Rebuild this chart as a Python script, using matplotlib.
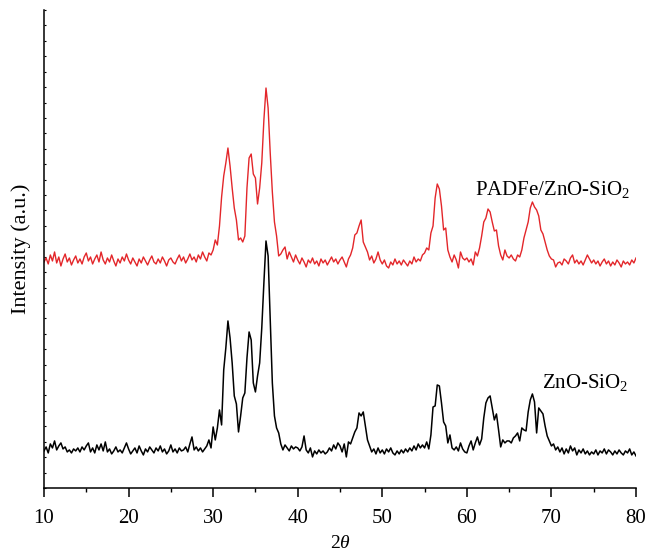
import numpy as np
import matplotlib
matplotlib.use("Agg")
import matplotlib.pyplot as plt
from matplotlib.ticker import MultipleLocator

plt.rcParams['font.family'] = ['Liberation Serif', 'DejaVu Serif']
plt.rcParams['mathtext.fontset'] = 'custom'
plt.rcParams['mathtext.rm'] = 'Liberation Serif'
plt.rcParams['mathtext.it'] = 'Liberation Serif:italic'

# 2theta grid, 10..80 deg in 0.25 deg steps
two_theta = np.arange(10, 80.001, 0.25)

# ZnO-SiO2 intensity (a.u.)
zno_sio2 = [
    37, 41, 35, 44, 40, 47, 38, 42, 45, 39, 41, 36, 38, 35, 39, 37, 40, 36, 41, 38,
    42, 45, 36, 40, 35, 43, 38, 44, 37, 46, 36, 39, 34, 37, 41, 36, 38, 35, 40, 45,
    39, 34, 37, 40, 35, 42, 37, 33, 39, 36, 41, 38, 35, 40, 37, 42, 36, 39, 34, 37,
    43, 36, 39, 35, 40, 37, 38, 41, 36, 44, 51, 38, 41, 37, 40, 36, 39, 42, 48, 40,
    61, 48, 60, 78, 63, 118, 140, 167, 150, 125, 92, 84, 56, 72, 90, 95, 130, 156, 148, 105,
    96, 112, 125, 160, 205, 247, 232, 170, 105, 72, 60, 55, 44, 38, 43, 40, 37, 42, 39, 41,
    40, 37, 41, 52, 38, 35, 40, 31, 37, 34, 38, 35, 37, 34, 36, 40, 37, 43, 39, 45,
    42, 36, 44, 31, 46, 44, 50, 56, 60, 75, 72, 76, 62, 48, 42, 36, 39, 34, 40, 35,
    38, 34, 39, 36, 40, 35, 33, 37, 34, 38, 35, 39, 36, 40, 37, 42, 38, 44, 40, 43,
    40, 46, 39, 53, 81, 82, 103, 102, 85, 66, 62, 45, 53, 40, 38, 41, 37, 45, 39, 36,
    35, 42, 47, 38, 45, 51, 43, 49, 70, 85, 90, 92, 80, 68, 74, 58, 41, 48, 45, 47,
    47, 45, 50, 52, 55, 47, 60, 58, 57, 76, 88, 94, 86, 55, 80, 77, 74, 62, 52, 47,
    42, 44, 38, 41, 36, 40, 34, 39, 35, 42, 37, 40, 33, 38, 35, 39, 34, 37, 33, 36,
    34, 38, 33, 37, 35, 39, 34, 38, 36, 33, 37, 34, 38, 35, 33, 37, 35, 39, 33, 36,
    32,
]

# PADFe/ZnO-SiO2 intensity (a.u.), already stacked above the first pattern
padfe = [
    226, 230, 224, 233, 227, 236, 225, 231, 222, 229, 234, 226, 230, 223, 228, 232, 225, 229, 224, 231,
    235, 227, 231, 224, 229, 233, 226, 236, 228, 224, 230, 226, 233, 227, 222, 229, 225, 231, 227, 234,
    228, 224, 230, 226, 222, 229, 225, 231, 227, 223, 228, 232, 226, 224, 229, 225, 231, 227, 222, 228,
    230, 226, 224, 229, 233, 227, 231, 225, 229, 234, 228, 231, 226, 233, 229, 236, 231, 227, 235, 233,
    238, 248, 243, 262, 291, 312, 325, 340, 322, 300, 280, 268, 248, 250, 246, 252, 300, 330, 334, 314,
    310, 284, 300, 325, 368, 400, 380, 335, 296, 266, 252, 232, 234, 238, 241, 229, 236, 231, 226, 233,
    228, 224, 230, 226, 221, 228, 225, 230, 224, 227, 222, 229, 225, 228, 223, 227, 231, 226, 229, 224,
    228, 231, 226, 221, 229, 233, 240, 253, 255, 262, 268, 246, 241, 236, 228, 232, 225, 229, 236, 228,
    224, 228, 222, 220, 226, 223, 229, 224, 227, 223, 228, 225, 222, 227, 224, 231, 226, 229, 227, 233,
    235, 240, 238, 255, 262, 290, 304, 299, 282, 258, 260, 238, 231, 226, 233, 228, 220, 236, 230, 228,
    230, 226, 229, 223, 236, 232, 240, 252, 266, 270, 279, 276, 266, 257, 258, 242, 233, 228, 238, 232,
    230, 233, 229, 227, 233, 231, 238, 250, 258, 266, 280, 286, 281, 278, 272, 258, 254, 246, 238, 232,
    229, 228, 221, 225, 226, 223, 229, 227, 224, 230, 233, 225, 228, 224, 227, 223, 228, 233, 229, 225,
    228, 224, 227, 222, 226, 229, 224, 227, 222, 226, 223, 228, 225, 221, 227, 224, 226, 223, 228, 225,
    230,
]

fig = plt.figure(figsize=(6.47, 5.57), dpi=100)
ax = fig.add_axes([0.068, 0.124, 0.915, 0.858])

ax.plot(two_theta, zno_sio2, color='black', lw=1.1)
ax.plot(two_theta, padfe, color='#e3262a', lw=1.0)

ax.text(61.0, 298, 'PADFe/ZnO-SiO$_2$', fontsize=15, va='center', ha='left')
ax.text(68.9, 105, 'ZnO-SiO$_2$', fontsize=15, va='center', ha='left')

ax.set_xlim(10, 80)
ax.set_ylim(0, 478)
ax.xaxis.set_major_locator(MultipleLocator(10))
ax.xaxis.set_minor_locator(MultipleLocator(5))
ax.yaxis.set_major_locator(MultipleLocator(478 / 31))
ax.set_yticklabels([])

ax.spines['top'].set_visible(False)
ax.spines['right'].set_visible(False)
ax.spines['left'].set_linewidth(1.1)
ax.spines['bottom'].set_linewidth(1.1)

ax.tick_params(axis='x', which='major', direction='out', length=6.5, width=1.1,
               labelsize=15, pad=9)
ax.tick_params(axis='x', which='minor', direction='out', length=3, width=1.0)
ax.tick_params(axis='y', which='major', direction='in', length=1.5, width=0.8)

ax.set_xlabel('2$\\it{\\theta}$', fontsize=14, labelpad=5)
ax.set_ylabel('Intensity (a.u.)', fontsize=16, labelpad=6)

fig.savefig('out.png', dpi=100)
